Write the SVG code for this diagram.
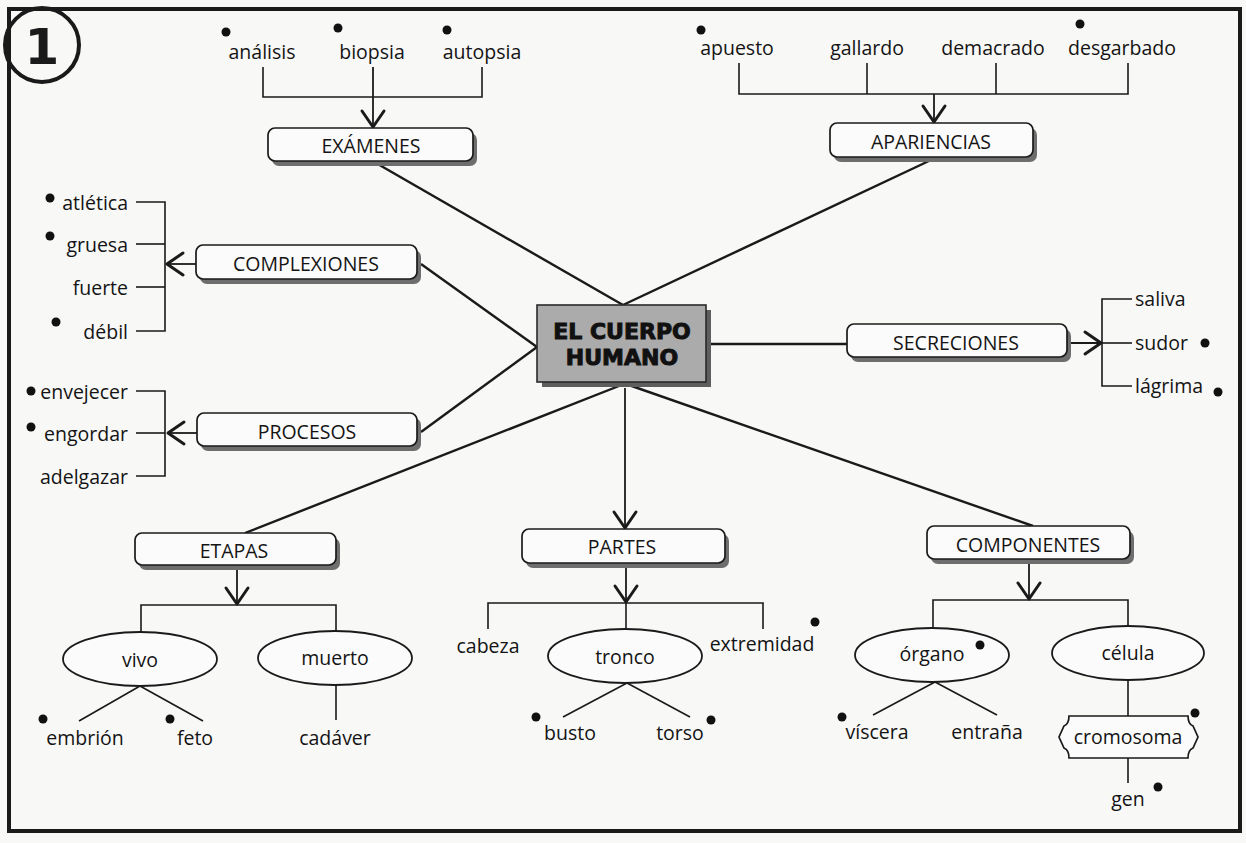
<svg xmlns="http://www.w3.org/2000/svg" width="1246" height="843" viewBox="0 0 1246 843">
<defs>
<marker id="v" viewBox="-18 -14 20 28" markerWidth="20" markerHeight="28" refX="0" refY="0" orient="auto" markerUnits="userSpaceOnUse" overflow="visible">
<path d="M-16,-11 L0,0 L-16,11" fill="none" stroke="#1a1a1a" stroke-width="3" stroke-linecap="round" stroke-linejoin="round"/>
</marker>
</defs>
<style>
.t{font-family:"Open Sans","Noto Sans","Liberation Sans",sans-serif;font-size:19.5px;fill:#141414}
.c{text-anchor:middle;dominant-baseline:central}
.r{text-anchor:end;dominant-baseline:central}
.l{text-anchor:start;dominant-baseline:central}
.box{fill:#fbfbfb;stroke:#1a1a1a;stroke-width:1.7}
.sh{fill:#6e6e6e}
.ell{fill:#fbfbfb;stroke:#1a1a1a;stroke-width:1.8}
.ln{stroke:#1a1a1a;stroke-width:2.4;fill:none}
.br{stroke:#1a1a1a;stroke-width:1.6;fill:none}
.ar{stroke:#1a1a1a;stroke-width:1.8;fill:none;marker-end:url(#v)}
.dot{fill:#111}
.big{font-family:"DejaVu Sans","Liberation Sans",sans-serif;font-weight:bold;font-size:22px;fill:#111;stroke:#111;stroke-width:1;text-anchor:middle;dominant-baseline:central}
</style>
<rect x="0" y="0" width="1246" height="843" fill="#f8f8f7"/>
<rect x="9" y="9" width="1231" height="822" fill="none" stroke="#1a1a1a" stroke-width="4"/>
<g id="num">
<circle cx="42" cy="45" r="37" fill="none" stroke="#1a1a1a" stroke-width="4"/>
<text x="42" y="47" font-family="DejaVu Sans, sans-serif" font-weight="bold" font-size="50" fill="#1a1a1a" text-anchor="middle" dominant-baseline="central">1</text>
</g>

<g id="connectors">
<line class="ln" x1="376" y1="163" x2="623" y2="305"/>
<line class="ln" x1="931" y1="160" x2="623" y2="305"/>
<line class="ln" x1="421" y1="264" x2="537" y2="347"/>
<line class="ln" x1="421" y1="432" x2="537" y2="347"/>
<line class="ln" x1="711" y1="344" x2="847" y2="344"/>
<line class="ln" x1="624" y1="384" x2="245" y2="533"/>
<line class="ln" x1="626" y1="384" x2="1033" y2="526"/>
<line class="ar" x1="625" y1="388" x2="625" y2="528"/>
<polyline class="br" points="263,67 263,97 482,97 482,67"/>
<line class="ar" x1="373" y1="67" x2="373" y2="127"/>
<polyline class="br" points="739,63 739,94 1128,94 1128,63"/>
<line class="br" x1="867" y1="63" x2="867" y2="94"/>
<line class="br" x1="996" y1="63" x2="996" y2="94"/>
<line class="ar" x1="934" y1="94" x2="934" y2="122"/>
<polyline class="br" points="136,202 165,202 165,331 136,331"/>
<line class="br" x1="136" y1="244" x2="165" y2="244"/>
<line class="br" x1="136" y1="287" x2="165" y2="287"/>
<line class="ar" x1="196" y1="264" x2="167" y2="264"/>
<polyline class="br" points="136,391 165,391 165,476 136,476"/>
<line class="br" x1="136" y1="433" x2="165" y2="433"/>
<line class="ar" x1="197" y1="433" x2="168" y2="433"/>
<polyline class="br" points="1132,299 1102,299 1102,386 1132,386"/>
<line class="br" x1="1102" y1="343" x2="1132" y2="343"/>
<line class="ar" x1="1067" y1="343" x2="1101" y2="343"/>
<line class="ar" x1="237" y1="566" x2="237" y2="604"/>
<polyline class="br" points="141,633 141,605 336,605 336,632"/>
<line class="br" x1="140" y1="686" x2="79" y2="721"/>
<line class="br" x1="140" y1="686" x2="203" y2="721"/>
<line class="br" x1="336" y1="685" x2="336" y2="720"/>
<line class="ar" x1="626" y1="563" x2="626" y2="602"/>
<polyline class="br" points="488,629 488,603 763,603 763,629"/>
<line class="br" x1="626" y1="603" x2="626" y2="630"/>
<line class="br" x1="627" y1="683" x2="563" y2="717"/>
<line class="br" x1="627" y1="683" x2="690" y2="717"/>
<line class="ar" x1="1029" y1="559" x2="1029" y2="599"/>
<polyline class="br" points="933,627 933,600 1128,600 1128,627"/>
<line class="br" x1="935" y1="682" x2="873" y2="715"/>
<line class="br" x1="935" y1="682" x2="997" y2="715"/>
<line class="br" x1="1128" y1="680" x2="1128" y2="716"/>
<line class="br" x1="1128" y1="758" x2="1128" y2="783"/>
</g>

<g id="n-center">
<rect x="542" y="310" width="169" height="77" fill="#5e5e5e"/>
<rect x="537" y="305" width="169" height="77" fill="#ababab" stroke="#2a2a2a" stroke-width="1.6"/>
<text class="big" x="622" y="331">EL CUERPO</text>
<text class="big" x="622" y="357">HUMANO</text>
</g>

<g id="n-examenes">
<rect class="sh" x="272" y="133" width="205" height="33" rx="7"/>
<rect class="box" x="268" y="128" width="205" height="33" rx="7"/>
<text class="t c" x="371" y="145">EXÁMENES</text>
</g>
<g id="n-apariencias">
<rect class="sh" x="834" y="128" width="203" height="34" rx="7"/>
<rect class="box" x="830" y="123" width="203" height="34" rx="7"/>
<text class="t c" x="931" y="141">APARIENCIAS</text>
</g>
<g id="n-complexiones">
<rect class="sh" x="200" y="250" width="221" height="34" rx="7"/>
<rect class="box" x="196" y="245" width="221" height="34" rx="7"/>
<text class="t c" x="306" y="263">COMPLEXIONES</text>
</g>
<g id="n-procesos">
<rect class="sh" x="201" y="418" width="220" height="33" rx="7"/>
<rect class="box" x="197" y="413" width="220" height="33" rx="7"/>
<text class="t c" x="307" y="431">PROCESOS</text>
</g>
<g id="n-secreciones">
<rect class="sh" x="851" y="329" width="220" height="33" rx="7"/>
<rect class="box" x="847" y="324" width="220" height="33" rx="7"/>
<text class="t c" x="956" y="342">SECRECIONES</text>
</g>
<g id="n-etapas">
<rect class="sh" x="139" y="538" width="201" height="32" rx="7"/>
<rect class="box" x="135" y="533" width="201" height="32" rx="7"/>
<text class="t c" x="234" y="550">ETAPAS</text>
</g>
<g id="n-partes">
<rect class="sh" x="526" y="534" width="203" height="34" rx="7"/>
<rect class="box" x="522" y="529" width="203" height="34" rx="7"/>
<text class="t c" x="622" y="546">PARTES</text>
</g>
<g id="n-componentes">
<rect class="sh" x="931" y="531" width="203" height="33" rx="7"/>
<rect class="box" x="927" y="526" width="203" height="33" rx="7"/>
<text class="t c" x="1028" y="544">COMPONENTES</text>
</g>

<g id="n-examenes-items">
<text class="t c" x="262" y="51">análisis</text>
<text class="t c" x="372" y="51">biopsia</text>
<text class="t c" x="482" y="51">autopsia</text>
</g>
<g id="n-apariencias-items">
<text class="t c" x="737" y="47">apuesto</text>
<text class="t c" x="867" y="47">gallardo</text>
<text class="t c" x="993" y="47">demacrado</text>
<text class="t c" x="1122" y="47">desgarbado</text>
</g>
<g id="n-complexiones-items">
<text class="t r" x="128" y="202">atlética</text>
<text class="t r" x="128" y="244">gruesa</text>
<text class="t r" x="128" y="287">fuerte</text>
<text class="t r" x="128" y="331">débil</text>
</g>
<g id="n-procesos-items">
<text class="t r" x="128" y="391">envejecer</text>
<text class="t r" x="128" y="433">engordar</text>
<text class="t r" x="128" y="476">adelgazar</text>
</g>
<g id="n-secreciones-items">
<text class="t l" x="1135" y="298">saliva</text>
<text class="t l" x="1135" y="342">sudor</text>
<text class="t l" x="1135" y="385">lágrima</text>
</g>
<g id="n-vivo">
<ellipse class="ell" cx="140" cy="659" rx="77" ry="27"/>
<text class="t c" x="140" y="659">vivo</text>
</g>
<g id="n-muerto">
<ellipse class="ell" cx="335" cy="658" rx="77" ry="27"/>
<text class="t c" x="335" y="657">muerto</text>
</g>
<g id="n-etapas-items">
<text class="t c" x="85" y="737">embrión</text>
<text class="t c" x="195" y="737">feto</text>
<text class="t c" x="335" y="737">cadáver</text>
</g>
<g id="n-tronco">
<ellipse class="ell" cx="625" cy="656" rx="77" ry="27"/>
<text class="t c" x="625" y="656">tronco</text>
</g>
<g id="n-partes-items">
<text class="t c" x="488" y="645">cabeza</text>
<text class="t c" x="762" y="643">extremidad</text>
<text class="t c" x="570" y="732">busto</text>
<text class="t c" x="680" y="732">torso</text>
</g>
<g id="n-organo">
<ellipse class="ell" cx="932" cy="655" rx="77" ry="27"/>
<text class="t c" x="932" y="653">órgano</text>
</g>
<g id="n-celula">
<ellipse class="ell" cx="1128" cy="653" rx="76" ry="27"/>
<text class="t c" x="1128" y="652">célula</text>
</g>
<g id="n-cromosoma">
<path class="box" d="M1069,716 H1188 Q1188,724 1193,726 L1198,737 L1193,748 Q1188,750 1188,758 H1069 Q1069,750 1064,748 L1059,737 L1064,726 Q1069,724 1069,716 Z"/>
<text class="t c" x="1128" y="736">cromosoma</text>
</g>
<g id="n-componentes-items">
<text class="t c" x="877" y="731">víscera</text>
<text class="t c" x="987" y="731">entraña</text>
<text class="t c" x="1128" y="798">gen</text>
</g>

<g id="bullets">
<circle class="dot" cx="226" cy="32" r="4.5"/>
<circle class="dot" cx="338" cy="28" r="4.5"/>
<circle class="dot" cx="447" cy="30" r="4.5"/>
<circle class="dot" cx="701" cy="30" r="4.5"/>
<circle class="dot" cx="1080" cy="24" r="4.5"/>
<circle class="dot" cx="50" cy="198" r="4.5"/>
<circle class="dot" cx="50" cy="236" r="4.5"/>
<circle class="dot" cx="56" cy="322" r="4.5"/>
<circle class="dot" cx="31" cy="391" r="4.5"/>
<circle class="dot" cx="31" cy="427" r="4.5"/>
<circle class="dot" cx="1205" cy="343" r="4.5"/>
<circle class="dot" cx="1218" cy="392" r="4.5"/>
<circle class="dot" cx="43" cy="719" r="4.5"/>
<circle class="dot" cx="170" cy="719" r="4.5"/>
<circle class="dot" cx="815" cy="622" r="4.5"/>
<circle class="dot" cx="536" cy="717" r="4.5"/>
<circle class="dot" cx="711" cy="720" r="4.5"/>
<circle class="dot" cx="980" cy="645" r="4.5"/>
<circle class="dot" cx="842" cy="717" r="4.5"/>
<circle class="dot" cx="1195" cy="713" r="4.5"/>
<circle class="dot" cx="1158" cy="787" r="4.5"/>
</g>
</svg>
